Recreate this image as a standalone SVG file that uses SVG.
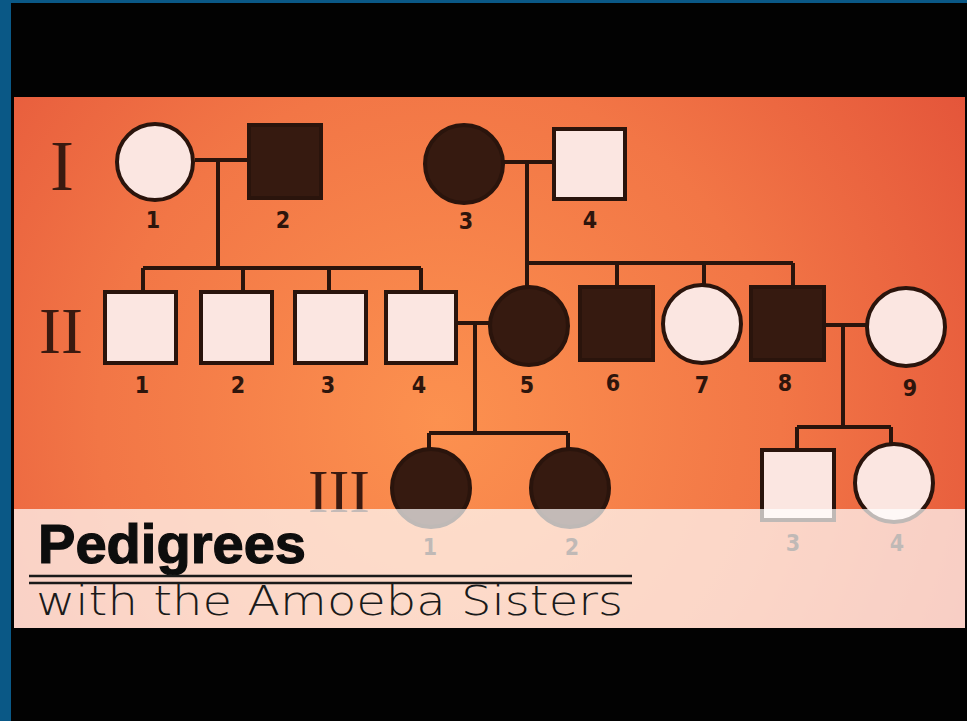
<svg xmlns="http://www.w3.org/2000/svg" width="967" height="721" viewBox="0 0 967 721">
<defs>
<radialGradient id="bg" gradientUnits="userSpaceOnUse" cx="440" cy="420" r="620">
<stop offset="0" stop-color="#fc914f"/>
<stop offset="0.55" stop-color="#f27646"/>
<stop offset="1" stop-color="#e4553a"/>
</radialGradient>
<style>
.lt{fill:#fbe6e1;stroke:#2a140c;stroke-width:4}
.dk{fill:#361a10;stroke:#2a140c;stroke-width:4}
.lb{font-family:"DejaVu Sans Condensed","Liberation Sans Narrow","Liberation Sans",sans-serif;font-weight:bold;font-size:23px;fill:#2e150c;text-anchor:middle}
.rn{font-family:"Liberation Serif",serif;fill:#3a1a10;text-anchor:middle}
#connectors path{fill:none;stroke:#2a140c;stroke-width:4}
</style>
</defs>
<rect x="0" y="0" width="967" height="721" fill="#0a5886"/>
<rect x="11" y="3" width="956" height="718" fill="#020202"/>
<rect x="14" y="97" width="951" height="531" fill="url(#bg)"/>
<g id="connectors">
<path d="M195 160H248M218 160V268M143 268H421M143 268V291M243 268V291M329 268V291M421 268V291"/>
<path d="M502 162H553M527 162V287M527 263H793M617 263V286M704 263V285M793 263V286"/>
<path d="M457 323H491M475 323V433M429 433H568M429 433V449M568 433V449"/>
<path d="M825 325H867M843 325V427M797 427H891M797 427V449M891 427V445"/>
</g>
<g id="gen-labels">
<text class="rn" x="62" y="190" font-size="72">I</text>
<text class="rn" x="61" y="353" font-size="66">II</text>
<text class="rn" x="339" y="512" font-size="62">III</text>
</g>
<g id="I-1"><circle class="lt" cx="155" cy="162" r="38"/><text class="lb" x="153" y="228">1</text></g>
<g id="I-2"><rect class="dk" x="249" y="125" width="72" height="73"/><text class="lb" x="283" y="228">2</text></g>
<g id="I-3"><circle class="dk" cx="464" cy="164" r="39"/><text class="lb" x="466" y="229">3</text></g>
<g id="I-4"><rect class="lt" x="554" y="129" width="71" height="70"/><text class="lb" x="590" y="228">4</text></g>
<g id="II-1"><rect class="lt" x="105" y="292" width="71" height="71"/><text class="lb" x="142" y="393">1</text></g>
<g id="II-2"><rect class="lt" x="201" y="292" width="71" height="71"/><text class="lb" x="238" y="393">2</text></g>
<g id="II-3"><rect class="lt" x="295" y="292" width="71" height="71"/><text class="lb" x="328" y="393">3</text></g>
<g id="II-4"><rect class="lt" x="386" y="292" width="70" height="71"/><text class="lb" x="419" y="393">4</text></g>
<g id="II-5"><circle class="dk" cx="529" cy="326" r="39"/><text class="lb" x="527" y="393">5</text></g>
<g id="II-6"><rect class="dk" x="580" y="287" width="73" height="73"/><text class="lb" x="613" y="391">6</text></g>
<g id="II-7"><circle class="lt" cx="702" cy="324" r="39"/><text class="lb" x="702" y="393">7</text></g>
<g id="II-8"><rect class="dk" x="751" y="287" width="73" height="73"/><text class="lb" x="785" y="391">8</text></g>
<g id="II-9"><circle class="lt" cx="906" cy="327" r="39"/><text class="lb" x="910" y="396">9</text></g>
<g id="III-1"><circle class="dk" cx="431" cy="488" r="39"/><text class="lb" x="430" y="555">1</text></g>
<g id="III-2"><circle class="dk" cx="570" cy="488" r="39"/><text class="lb" x="572" y="555">2</text></g>
<g id="III-3"><rect class="lt" x="762" y="450" width="72" height="70"/><text class="lb" x="793" y="551">3</text></g>
<g id="III-4"><circle class="lt" cx="894" cy="483" r="39"/><text class="lb" x="897" y="551">4</text></g>
<rect x="14" y="509" width="951" height="119" fill="#ffffff" fill-opacity="0.7"/>
<g id="title">
<text x="38" y="563" font-family="'Liberation Sans',sans-serif" font-weight="bold" font-size="56" fill="#0d0d0d" stroke="#0d0d0d" stroke-width="1.2" textLength="268" lengthAdjust="spacingAndGlyphs">Pedigrees</text>
<path d="M29 576H632M29 583H632" stroke="#1a1a1a" stroke-width="2.5" fill="none"/>
<text x="36" y="615" font-family="'DejaVu Sans','Liberation Sans',sans-serif" font-weight="300" font-size="40" fill="#1a1a1a" textLength="587" lengthAdjust="spacingAndGlyphs">with the Amoeba Sisters</text>
</g>
</svg>
